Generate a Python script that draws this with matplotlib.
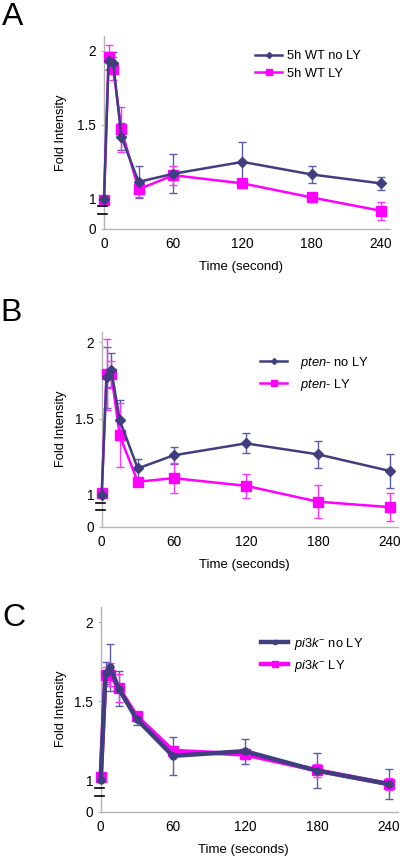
import numpy as np
import matplotlib
matplotlib.use('Agg')
import matplotlib.pyplot as plt
from matplotlib.transforms import blended_transform_factory

plt.rcParams['font.family'] = ['Liberation Sans', 'DejaVu Sans']
plt.rcParams['mathtext.fontset'] = 'custom'
plt.rcParams['mathtext.rm'] = 'Liberation Sans'
plt.rcParams['mathtext.it'] = 'Liberation Sans:italic'

# time points (seconds)
times = [0, 4, 8, 15, 30, 60, 120, 180, 240]

# panel A - 5h WT
wt_noly = [1.0, 1.93, 1.92, 1.42, 1.115, 1.17, 1.25, 1.165, 1.105]
wt_noly_err = [0, 0.06, 0.07, 0.09, 0.11, 0.13, 0.135, 0.06, 0.045]
wt_ly = [0.99, 1.96, 1.88, 1.47, 1.065, 1.16, 1.105, 1.01, 0.92]
wt_ly_err = [0, 0.08, 0.08, 0.15, 0.05, 0.065, 0.02, 0.03, 0.06]

# panel B - pten-
pten_noly = [1.0, 1.77, 1.82, 1.49, 1.174, 1.26, 1.338, 1.266, 1.157]
pten_noly_err = [0, 0.2, 0.11, 0.13, 0.06, 0.055, 0.065, 0.09, 0.11]
pten_ly = [1.01, 1.79, 1.79, 1.39, 1.087, 1.11, 1.06, 0.956, 0.92]
pten_ly_err = [0, 0.23, 0.09, 0.21, 0.025, 0.10, 0.08, 0.11, 0.09]

# panel C - pi3k-
pi3k_noly = [1.0, 1.68, 1.715, 1.58, 1.387, 1.154, 1.184, 1.06, 0.975]
pi3k_noly_err = [0, 0.07, 0.15, 0.11, 0.04, 0.12, 0.08, 0.11, 0.095]
pi3k_ly = [1.017, 1.67, 1.67, 1.585, 1.405, 1.186, 1.163, 1.063, 0.975]
pi3k_ly_err = [0, 0.05, 0.07, 0.09, 0.025, 0.02, 0.03, 0.04, 0.04]

xticks = [0, 60, 120, 180, 240]
ytick_labels = ['0', '1', '1.5', '2']

navy = '#3f3f80'
navy_err = '#5c5ca6'
pink = '#ff00ff'
pink_err = '#ff33ff'

W, H = 400, 858
fig = plt.figure(figsize=(4, 8.58), dpi=100)


def px(x0, y0, x1, y1):
    # pixel box -> figure fraction rect
    return [x0 / W, 1 - y1 / H, (x1 - x0) / W, (y1 - y0) / H]


def panel(rect, xmax, ylim, noly, noly_err, ly, ly_err, labels, navy_marker,
          lw, letter, letter_pos, xlabel, xlabel_y, leg_anchor, textpad):
    ax = fig.add_axes(rect)
    ax.errorbar(times, noly, yerr=noly_err, fmt='none', ecolor=navy_err,
                elinewidth=1, capsize=3, capthick=1, clip_on=False, zorder=2)
    ax.errorbar(times, ly, yerr=ly_err, fmt='none', ecolor=pink_err,
                elinewidth=1, capsize=3, capthick=1, clip_on=False, zorder=2)
    ax.plot(times, noly, color=navy, lw=lw, marker=navy_marker, ms=5,
            label=labels[0], clip_on=False, zorder=4)
    ax.plot(times, ly, color=pink, lw=lw, marker='s', ms=6.5,
            label=labels[1], clip_on=False, zorder=3)
    ax.set_xlim(0, xmax)
    ax.set_ylim(*ylim)
    ax.set_xticks(xticks)
    ax.set_yticks([ylim[0], 1, 1.5, 2])
    ax.set_yticklabels(ytick_labels)
    for s in ['top', 'right']:
        ax.spines[s].set_visible(False)
    for s in ['left', 'bottom']:
        ax.spines[s].set_color('#b4b4b4')
        ax.spines[s].set_linewidth(1)
    ax.tick_params(axis='x', length=0, pad=6, labelsize=9.8)
    ax.tick_params(axis='y', length=2.5, color='#b4b4b4', pad=3, labelsize=9.8)
    # axis break marks
    for yb in [0.95, 0.90]:
        ax.plot([-0.02, 0.012], [yb, yb], color='black', lw=1.2,
                transform=ax.get_yaxis_transform(), clip_on=False, zorder=5)
    ax.set_ylabel('Fold Intensity', fontsize=9.3)
    ax.yaxis.set_label_coords(67 / W, 0.5,
                              transform=blended_transform_factory(fig.transFigure, ax.transAxes))
    fig.text(0.5 * (rect[0] + rect[0] + rect[2]) - 0.015, 1 - xlabel_y / H,
             xlabel, ha='center', va='center', fontsize=9.5)
    fig.text(letter_pos[0] / W, 1 - letter_pos[1] / H, letter,
             fontsize=23, ha='left', va='top')
    ax.legend(loc='upper left', bbox_to_anchor=(leg_anchor[0] / W, 1 - leg_anchor[1] / H),
              bbox_transform=fig.transFigure, frameon=False, fontsize=9.3,
              borderpad=0, borderaxespad=0, handlelength=2.1,
              handletextpad=textpad, labelspacing=0.45, markerscale=0.6)
    return ax


panel(px(104, 36, 390, 229), 247.8, (0.797, 2.10), wt_noly, wt_noly_err,
      wt_ly, wt_ly_err, ['5h WT no LY', '5h WT LY'], 'D', 1.8,
      'A', (2, 2), 'Time (second)', 267, (255, 50), 0.35)

panel(px(101.7, 331.7, 398, 526.7), 246.6, (0.792, 2.07), pten_noly, pten_noly_err,
      pten_ly, pten_ly_err, [r'$\mathit{pten}$- no LY', r'$\mathit{pten}$- LY'], 'D', 1.8,
      'B', (0, 298), 'Time (seconds)', 565, (260, 355), 1.0)

panel(px(100.7, 606.7, 398, 811.7), 247.5, (0.80, 2.10), pi3k_noly, pi3k_noly_err,
      pi3k_ly, pi3k_ly_err, [r'$\mathit{pi3k}^{-}$ no LY', r'$\mathit{pi3k}^{-}$ LY'], 'o', 3.2,
      'C', (2, 603), 'Time (seconds)', 850, (261, 636), 0.45)

fig.savefig('out.png', dpi=100)
